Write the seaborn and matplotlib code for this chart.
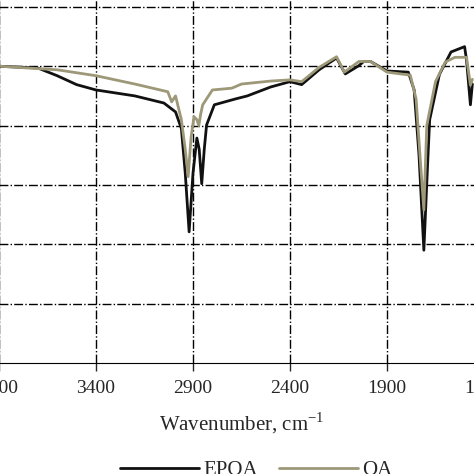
import matplotlib
matplotlib.use("Agg")
import matplotlib.pyplot as plt
import seaborn as sns
import pandas as pd

epoa_x = [3900, 3700, 3600, 3500, 3400, 3200, 3050, 3010, 2990, 2960, 2940, 2920, 2900, 2880, 2868, 2855, 2842, 2830, 2790, 2680, 2620, 2500, 2400, 2340, 2250, 2160, 2115, 2045, 2020, 1985, 1900, 1790, 1760, 1735, 1710, 1690, 1680, 1630, 1570, 1500, 1490, 1470, 1460]
epoa_y = [5.0, 4.97, 4.84, 4.69, 4.6, 4.5, 4.38, 4.28, 4.23, 3.95, 3.2, 2.21, 3.2, 3.79, 3.6, 3.02, 3.6, 4.01, 4.35, 4.45, 4.5, 4.65, 4.74, 4.69, 4.94, 5.14, 4.87, 5.01, 5.08, 5.08, 4.92, 4.9, 4.6, 3.5, 1.9, 3.4, 4.1, 4.86, 5.24, 5.33, 5.1, 4.35, 4.7]
oa_x = [3900, 3600, 3400, 3200, 3030, 3010, 2990, 2960, 2940, 2925, 2910, 2895, 2880, 2870, 2860, 2850, 2800, 2700, 2650, 2500, 2400, 2340, 2250, 2160, 2120, 2045, 1985, 1900, 1780, 1750, 1730, 1710, 1695, 1650, 1600, 1550, 1490, 1470, 1460]
oa_y = [5.0, 4.94, 4.84, 4.7, 4.57, 4.4, 4.5, 4.1, 3.6, 3.14, 3.8, 4.15, 4.1, 4.0, 4.2, 4.35, 4.6, 4.63, 4.7, 4.75, 4.77, 4.74, 4.98, 5.16, 4.9, 5.08, 5.08, 4.9, 4.85, 4.45, 3.5, 2.58, 4.0, 4.74, 5.07, 5.15, 5.15, 4.68, 4.78]

df = pd.concat([
    pd.DataFrame({"x": epoa_x, "y": epoa_y, "s": "EPOA"}),
    pd.DataFrame({"x": oa_x, "y": oa_y, "s": "OA"}),
])

sns.set_style("white")
plt.rcParams["font.family"] = ["Liberation Serif", "DejaVu Serif"]
plt.rcParams["mathtext.fontset"] = "custom"
plt.rcParams["mathtext.rm"] = "Liberation Serif"
fig = plt.figure(figsize=(4.74, 4.74), dpi=100)
ax = fig.add_axes([-1/474, 1-363/474, 485/474, (363+5)/474])
sns.lineplot(data=df, x="x", y="y", hue="s", palette={"EPOA": "#111111", "OA": "#9d9878"},
             sort=False, estimator=None, linewidth=2.0, ax=ax, legend=True)
ax.set_xlim(3900, 1400)
ax.set_ylim(0, 6.2)
ax.set_xticks([3900, 3400, 2900, 2400, 1900, 1400])
ax.set_xticklabels(["3900", "3400", "2900", "2400", "1900", "1400"], fontsize=14)
ax.set_yticks([1, 2, 3, 4, 5, 6])
ax.set_yticklabels([])
ax.grid(True, color="black", linestyle="-.", linewidth=1.0)
ax.tick_params(axis="x", direction="out", length=6, width=1, bottom=True, pad=6)
for s in ["top", "right"]:
    ax.spines[s].set_visible(False)
ax.spines["bottom"].set_color("black")
ax.spines["left"].set_color("black")
ax.set_ylabel("")
ax.set_xlabel("Wavenumber, cm$^{\\mathregular{-1}}$", fontsize=15, labelpad=10)
ax.legend(loc="upper center", bbox_to_anchor=(0.53, -0.215), ncol=2, frameon=False,
          fontsize=15, handlelength=3.8, columnspacing=1.0, handletextpad=0.2)
fig.savefig("out.png", dpi=100)
